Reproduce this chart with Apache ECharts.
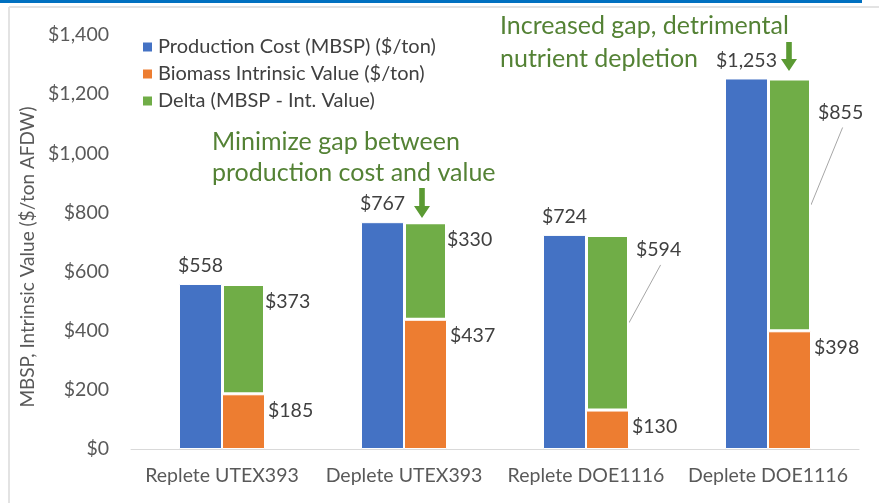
<!DOCTYPE html>
<html lang="en">
<head>
    <meta charset="UTF-8">
    <title>MBSP vs intrinsic value</title>
    <style>
        html, body { margin: 0; padding: 0; background: #fff; }
        #chart { width: 879px; height: 503px; }
    </style>
</head>
<body>
<div id="chart"></div>
<script src="https://cdn.jsdelivr.net/npm/echarts@6/dist/echarts.min.js"></script>
<script>
    // data
    let categories = ['Replete UTEX393', 'Deplete UTEX393', 'Replete DOE1116', 'Deplete DOE1116'];
    let productionCost = [558, 767, 724, 1253];
    let intrinsicValue = [185, 437, 130, 398];
    let delta = [373, 330, 594, 855];
    let yTicks = [0, 200, 400, 600, 800, 1000, 1200, 1400];

    let font = 'Lato';
    let textColor = '#404040';
    let axisColor = '#595959';
    let darkGreen = '#548235';
    let arrowGreen = '#5b9a33';

    function money(v) {
        return '$' + String(v).replace(/\B(?=(\d{3})+(?!\d))/g, ',');
    }

    // small down arrow as polygon
    function arrow(x, y1, y2) {
        let sw = 2.8, hw = 8, hh = 12;
        return {
            type: 'polygon',
            shape: {
                points: [
                    [x - sw, y1], [x + sw, y1], [x + sw, y2 - hh], [x + hw, y2 - hh],
                    [x, y2], [x - hw, y2 - hh], [x - sw, y2 - hh]
                ]
            },
            style: { fill: arrowGreen }
        };
    }

    // leader lines for the moved delta labels, filled in by labelLayout
    let leaders = {};

    let chart = echarts.init(document.getElementById('chart'));

    let staticGraphic = [
        { type: 'rect', shape: { x: 0, y: 0, width: 862, height: 3 }, style: { fill: '#0070c0' } },
        { type: 'line', shape: { x1: 9, y1: 7, x2: 879, y2: 7 }, style: { stroke: '#e3e3e3', lineWidth: 2 } },
        { type: 'line', shape: { x1: 9, y1: 7, x2: 9, y2: 503 }, style: { stroke: '#e3e3e3', lineWidth: 2 } },
        {
            type: 'text', left: 500, top: 9,
            style: { text: 'Increased gap, detrimental\nnutrient depletion', fill: darkGreen, font: '25px Lato', lineHeight: 33 }
        },
        {
            type: 'text', left: 212, top: 126,
            style: { text: 'Minimize gap between\nproduction cost and value', fill: darkGreen, font: '25px Lato', lineHeight: 31 }
        },
        arrow(789, 42, 71),
        arrow(422, 188, 218)
    ];

    let option = {
        animation: false,
        textStyle: { fontFamily: font },
        grid: { left: 131, right: 20, top: 35, bottom: 54 },
        legend: {
            orient: 'vertical',
            left: 136,
            top: 32,
            icon: 'rect',
            itemWidth: 11,
            itemHeight: 11,
            itemGap: 7,
            textStyle: { fontSize: 20, color: textColor, fontFamily: font },
            data: ['Production Cost (MBSP) ($/ton)', 'Biomass Intrinsic Value ($/ton)', 'Delta (MBSP - Int. Value)']
        },
        xAxis: {
            type: 'category',
            data: categories,
            axisTick: { show: false },
            axisLine: { lineStyle: { color: '#d9d9d9', width: 1 } },
            axisLabel: { fontSize: 19.5, color: axisColor, margin: 17, interval: 0, fontFamily: font }
        },
        yAxis: {
            type: 'value',
            min: yTicks[0],
            max: yTicks[yTicks.length - 1],
            interval: 200,
            splitLine: { show: false },
            axisLabel: { fontSize: 19.5, color: axisColor, margin: 22, formatter: money, fontFamily: font },
            name: 'MBSP, Intrinsic Value ($/ton AFDW)',
            nameLocation: 'middle',
            nameGap: 94,
            nameTextStyle: { fontSize: 19, color: axisColor, fontFamily: font, padding: [0, 30, 0, 0] }
        },
        series: [
            {
                name: 'Production Cost (MBSP) ($/ton)',
                type: 'bar',
                barWidth: 43,
                barGap: '0%',
                data: productionCost,
                itemStyle: { color: '#4472c4', borderColor: '#fff', borderWidth: 1 },
                label: {
                    show: true, position: 'top', distance: 8,
                    fontSize: 19.5, color: textColor, fontFamily: font,
                    formatter: p => money(p.value)
                }
            },
            {
                name: 'Biomass Intrinsic Value ($/ton)',
                type: 'bar',
                stack: 'val',
                barWidth: 43,
                data: intrinsicValue,
                itemStyle: { color: '#ed7d31', borderColor: '#fff', borderWidth: 1 },
                label: {
                    show: true, position: 'right',
                    fontSize: 19.5, color: textColor, fontFamily: font,
                    formatter: p => money(p.value)
                },
                labelLayout: function (p) {
                    return {
                        x: p.rect.x + p.rect.width + 3,
                        y: p.rect.y + 16,
                        align: 'left',
                        verticalAlign: 'middle'
                    };
                }
            },
            {
                name: 'Delta (MBSP - Int. Value)',
                type: 'bar',
                stack: 'val',
                barWidth: 43,
                data: delta,
                itemStyle: { color: '#70ad47', borderColor: '#fff', borderWidth: 2 },
                label: {
                    show: true, position: 'right',
                    fontSize: 19.5, color: textColor, fontFamily: font,
                    formatter: p => money(p.value)
                },
                labelLayout: function (p) {
                    let far = p.dataIndex >= 2;
                    let dx = far ? 7 : 0;
                    let dy = p.dataIndex === 3 ? 34 : (far ? 15 : 18);
                    let right = p.rect.x + p.rect.width;
                    let lx = right + dx;
                    let ly = p.rect.y + dy;
                    if (far) {
                        leaders[p.dataIndex] = [
                            lx + p.labelRect.width / 2 + 2, ly + 15,
                            right, p.rect.y + p.rect.height / 2
                        ];
                    }
                    return { x: lx, y: ly, align: 'left', verticalAlign: 'middle' };
                }
            }
        ],
        graphic: staticGraphic
    };

    chart.setOption(option);

    // add the leader lines once the bars are laid out
    let lines = Object.keys(leaders).map(k => {
        let s = leaders[k];
        return {
            type: 'line',
            shape: { x1: s[0], y1: s[1], x2: s[2], y2: s[3] },
            style: { stroke: '#a6a6a6', lineWidth: 1 }
        };
    });
    chart.setOption({ graphic: staticGraphic.concat(lines) });
</script>
</body>
</html>
